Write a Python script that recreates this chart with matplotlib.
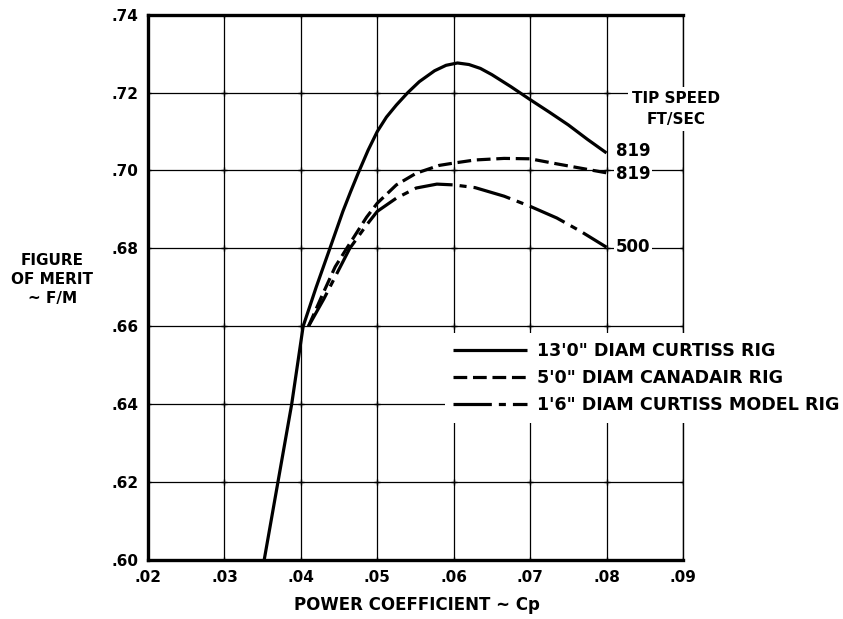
import matplotlib
matplotlib.use("Agg")
import numpy as np
from matplotlib import pyplot as plt

# power coefficient / figure of merit, read per rig
cp_13ft = [0.0352, 0.0370, 0.0388, 0.0403, 0.0420, 0.0438, 0.0455, 0.0465, 0.0475,
           0.0488, 0.0500, 0.0512, 0.0525, 0.0540, 0.0555, 0.0575, 0.0590, 0.0605,
           0.0620, 0.0635, 0.0650, 0.0675, 0.0700, 0.0725, 0.0750, 0.0775, 0.0800]
fm_13ft = [0.600, 0.620, 0.640, 0.660, 0.670, 0.680, 0.6895, 0.6945, 0.6993,
           0.7052, 0.7100, 0.7137, 0.7168, 0.7200, 0.7228, 0.7256, 0.7270, 0.7276,
           0.7272, 0.7262, 0.7246, 0.7215, 0.7182, 0.7150, 0.7117, 0.7080, 0.7045]

cp_5ft = [0.0410, 0.0428, 0.0445, 0.0460, 0.0486, 0.0500, 0.0525, 0.0551, 0.0581,
          0.0600, 0.0628, 0.0666, 0.0700, 0.0735, 0.0766, 0.0800]
fm_5ft = [0.660, 0.668, 0.6753, 0.680, 0.6880, 0.6916, 0.6963, 0.6993, 0.7013,
          0.7019, 0.7027, 0.7031, 0.7030, 0.7017, 0.7006, 0.6994]

cp_model = [0.0410, 0.0430, 0.0447, 0.0464, 0.0486, 0.0500, 0.0525, 0.0551, 0.0578,
            0.0600, 0.0628, 0.0666, 0.0700, 0.0735, 0.0766, 0.0800]
fm_model = [0.660, 0.667, 0.6735, 0.680, 0.6860, 0.6895, 0.6929, 0.6955, 0.6965,
            0.6963, 0.6956, 0.6934, 0.6908, 0.6878, 0.6844, 0.6803]

rig_names = ["13'0\" DIAM CURTISS RIG", "5'0\" DIAM CANADAIR RIG",
             "1'6\" DIAM CURTISS MODEL RIG"]
tip_speeds = ["819", "819", "500"]

x_ticks = [0.02, 0.03, 0.04, 0.05, 0.06, 0.07, 0.08, 0.09]
y_ticks = [0.60, 0.62, 0.64, 0.66, 0.68, 0.70, 0.72, 0.74]

plt.rcParams["font.family"] = "DejaVu Sans"
plt.rcParams["font.weight"] = "bold"

fig = plt.figure(figsize=(8.43, 6.19), dpi=100)
ax = fig.add_axes([0.1756, 0.0953, 0.6345, 0.881])

ax.set_xlim(x_ticks[0], x_ticks[-1])
ax.set_ylim(y_ticks[0], y_ticks[-1])
ax.set_xticks(x_ticks)
ax.set_yticks(y_ticks)
ax.set_xticklabels([("%.2f" % v)[1:] for v in x_ticks], fontsize=11, fontweight="bold")
ax.set_yticklabels([("%.2f" % v)[1:] for v in y_ticks], fontsize=11, fontweight="bold")
ax.tick_params(length=0, pad=7)
ax.grid(True, color="black", linewidth=0.9)
ax.set_axisbelow(True)

# little crosses where grid lines meet
gx, gy = np.meshgrid(x_ticks, y_ticks)
ax.plot(gx.ravel(), gy.ravel(), "+", color="black", markersize=4, mew=1, zorder=1)

for side in ["left", "bottom", "top"]:
    ax.spines[side].set_linewidth(2.4)
ax.spines["right"].set_linewidth(1.0)

lw = 2.3
dashed = (0, (4.3, 1.8))
dash_dot = (0, (12, 2.2, 2.2, 2.2))
ax.plot(cp_13ft, fm_13ft, color="black", lw=lw, solid_capstyle="butt",
        solid_joinstyle="round", label=rig_names[0], zorder=3)
ax.plot(cp_5ft, fm_5ft, color="black", lw=lw, linestyle=dashed,
        label=rig_names[1], zorder=3)
ax.plot(cp_model, fm_model, color="black", lw=lw, linestyle=dash_dot,
        label=rig_names[2], zorder=3)

# tip speed labels at the end of each curve
ends = [fm_13ft[-1], fm_5ft[-1], fm_model[-1]]
offsets = [0.0006, -0.0003, 0.0]
for speed, y, dy in zip(tip_speeds, ends, offsets):
    ax.text(0.0812, y + dy, speed, fontsize=12, fontweight="bold", va="center",
            ha="left", zorder=4,
            bbox=dict(facecolor="white", edgecolor="none", pad=1.2))

fig.text(0.802, 0.824, "TIP SPEED\nFT/SEC", fontsize=11, fontweight="bold",
         ha="center", va="center", linespacing=1.45,
         bbox=dict(facecolor="white", edgecolor="none", pad=3))

leg = ax.legend(loc="center left", bbox_to_anchor=(0.517, 0.389),
                bbox_transform=fig.transFigure, fontsize=12.6, handlelength=4.2,
                handletextpad=0.6, labelspacing=0.52, borderpad=0.5,
                frameon=True, fancybox=False, facecolor="white",
                edgecolor="none", framealpha=1.0)
for txt in leg.get_texts():
    txt.set_fontweight("bold")
leg.set_zorder(5)

fig.text(0.062, 0.548, "FIGURE\nOF MERIT\n~ F/M", fontsize=11, fontweight="bold",
         ha="center", va="center", linespacing=1.35)
fig.text(0.494, 0.022, "POWER COEFFICIENT ~ Cp", fontsize=12, fontweight="bold",
         ha="center", va="center")

fig.savefig("out.png", dpi=100, facecolor="white")
